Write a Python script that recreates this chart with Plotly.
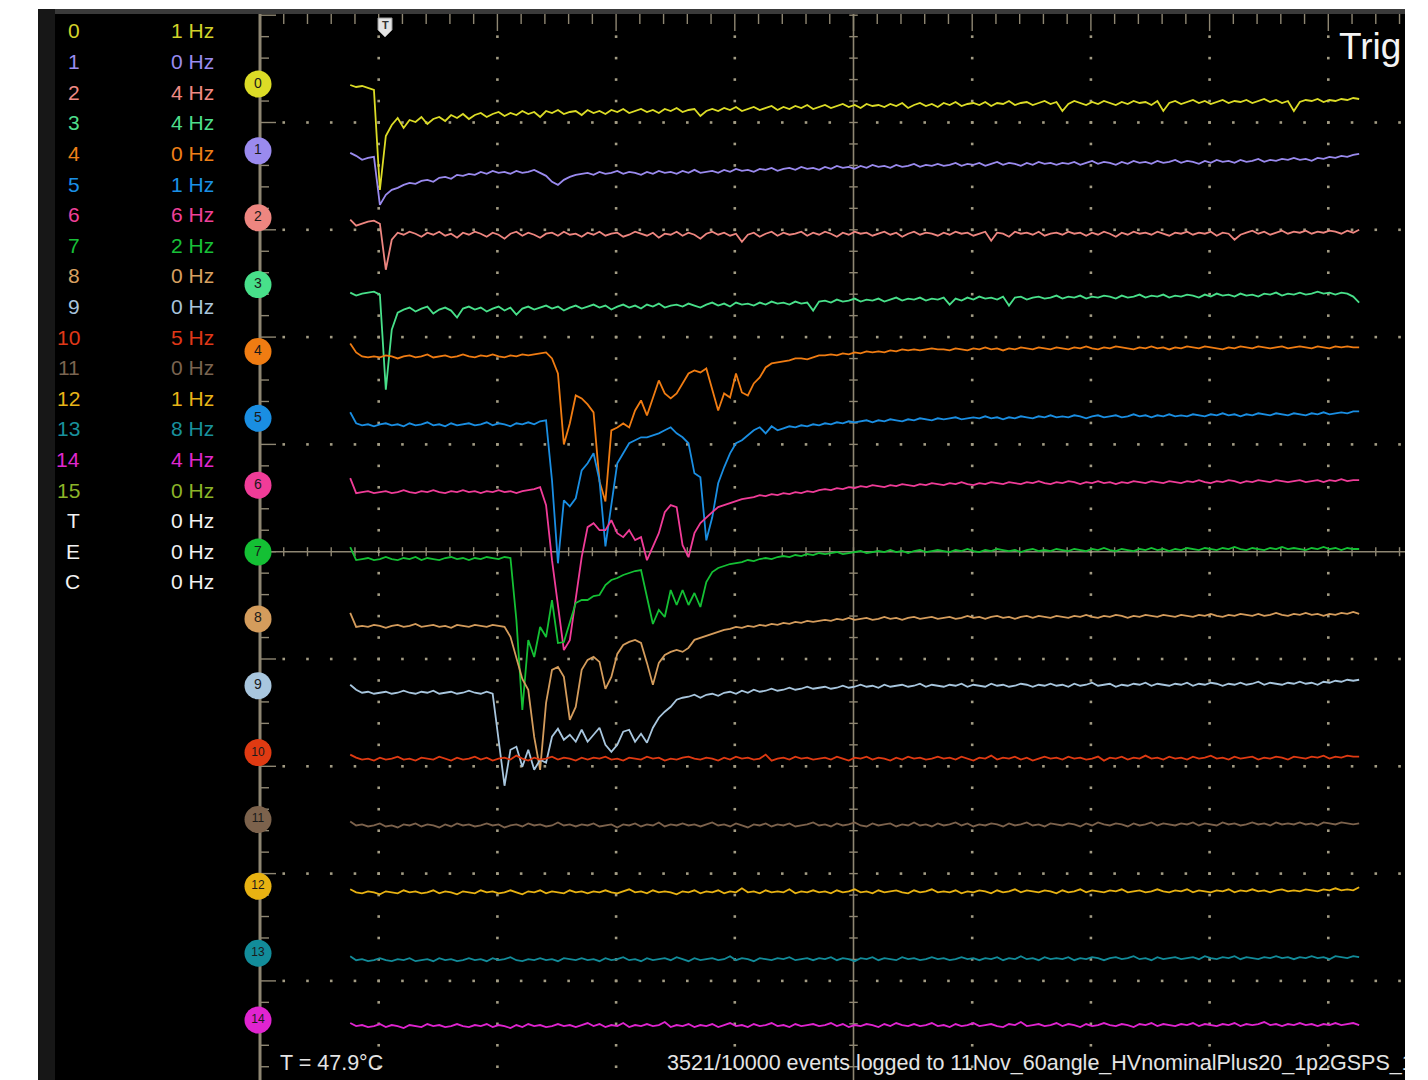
import plotly.graph_objects as go

# ---------------- data ----------------
T_START_NS = 76.0      # time of first sample
T_STEP_NS = 5.0        # sample spacing
NS_PER_DIV = 100.0
COUNTS_PER_DIV = 107.3

CHANNEL_COLORS = ["#dcdc26", "#9a8aee", "#ee8680", "#48e08a", "#f07c12",
                  "#1a8ee2", "#f03c98", "#14c034", "#d49c5c", "#a8c6de",
                  "#e03a12", "#7c624c", "#e8b212", "#128c9a", "#e024d0"]

ch0 = [-1,-3,-2,-4,-6,-106,-52,-41,-34,-44,-36,-38,-33,-40,-35,-33,-37,-31,-34,-30,
       -35,-31,-29,-33,-30,-28,-32,-29,-31,-27,-30,-28,-33,-27,-29,-26,-30,-28,-27,-31,
       -26,-29,-27,-30,-26,-28,-25,-29,-27,-25,-28,-26,-29,-25,-27,-24,-28,-26,-25,-32,
       -27,-25,-27,-24,-26,-23,-27,-25,-23,-26,-24,-22,-26,-23,-25,-22,-24,-21,-25,-23,
       -21,-24,-22,-20,-23,-21,-24,-20,-22,-21,-23,-20,-22,-19,-24,-21,-19,-22,-20,-23,
       -19,-21,-18,-22,-20,-19,-21,-18,-22,-19,-20,-17,-21,-19,-18,-21,-19,-17,-20,-18,
       -27,-20,-17,-19,-21,-18,-20,-17,-19,-21,-18,-20,-17,-19,-18,-21,-17,-27,-19,-17,
       -20,-18,-16,-19,-17,-20,-18,-16,-19,-17,-18,-16,-19,-17,-15,-18,-16,-19,-17,-27,
       -18,-16,-17,-15,-18,-16,-17,-15,-16,-14,-15]
ch1 = [-2,-5,-9,-7,-6,-54,-44,-39,-37,-34,-32,-33,-30,-29,-31,-27,-26,-28,-24,-25,
       -23,-24,-21,-23,-20,-22,-21,-23,-20,-22,-21,-19,-22,-25,-31,-34,-29,-26,-24,-23,
       -22,-24,-21,-23,-22,-20,-23,-21,-22,-24,-21,-23,-20,-22,-21,-23,-20,-22,-19,-22,
       -21,-20,-22,-19,-21,-18,-20,-19,-21,-18,-19,-17,-20,-18,-17,-19,-16,-18,-17,-19,
       -16,-18,-15,-17,-16,-18,-15,-17,-14,-16,-15,-17,-14,-16,-15,-13,-16,-14,-15,-13,
       -15,-14,-12,-15,-13,-14,-12,-15,-13,-11,-14,-12,-13,-15,-12,-14,-11,-13,-12,-14,
       -12,-13,-11,-14,-12,-10,-13,-11,-12,-14,-11,-13,-10,-12,-11,-13,-10,-12,-11,-9,
       -12,-10,-11,-13,-10,-12,-9,-11,-10,-12,-9,-11,-10,-8,-11,-9,-10,-8,-9,-7,
       -9,-8,-10,-7,-8,-6,-7,-5,-6,-4,-3]
ch2 = [-2,-8,-6,-4,-3,-6,-52,-22,-15,-17,-14,-16,-19,-15,-17,-14,-18,-16,-20,-15,
       -17,-14,-16,-19,-15,-17,-21,-16,-14,-18,-15,-17,-20,-16,-15,-18,-14,-17,-16,-19,
       -15,-17,-14,-18,-16,-15,-19,-17,-14,-16,-18,-15,-20,-16,-17,-14,-18,-15,-17,-21,
       -16,-14,-17,-15,-18,-16,-24,-17,-15,-19,-16,-14,-18,-15,-17,-16,-14,-18,-15,-17,
       -14,-16,-19,-15,-17,-14,-16,-15,-18,-16,-14,-17,-15,-19,-16,-14,-17,-15,-16,-18,
       -15,-17,-14,-16,-15,-18,-16,-14,-23,-15,-16,-19,-14,-16,-15,-17,-14,-18,-16,-15,
       -17,-14,-16,-15,-18,-15,-17,-14,-16,-19,-15,-17,-14,-16,-15,-17,-14,-16,-18,-15,
       -16,-14,-17,-15,-16,-14,-18,-15,-16,-22,-17,-15,-13,-16,-14,-17,-15,-13,-16,-14,
       -15,-13,-16,-14,-15,-13,-14,-16,-13,-15,-12]
ch3 = [-8,-11,-9,-8,-7,-10,-105,-45,-28,-25,-23,-27,-24,-22,-29,-25,-23,-26,-33,-24,
       -22,-25,-23,-27,-24,-22,-26,-23,-30,-24,-22,-25,-23,-21,-24,-22,-26,-23,-21,-24,
       -22,-20,-23,-21,-25,-22,-20,-23,-21,-24,-20,-22,-19,-23,-21,-20,-22,-19,-21,-23,
       -20,-18,-21,-19,-22,-18,-20,-19,-21,-18,-20,-17,-19,-18,-20,-17,-19,-18,-26,-17,
       -16,-18,-15,-17,-16,-14,-17,-15,-16,-14,-17,-15,-13,-16,-14,-15,-13,-16,-14,-15,
       -13,-20,-14,-16,-13,-15,-12,-14,-13,-15,-12,-21,-13,-12,-15,-13,-12,-14,-13,-11,
       -14,-12,-13,-11,-14,-12,-13,-11,-12,-14,-11,-13,-12,-10,-13,-11,-12,-10,-13,-11,
       -12,-10,-11,-13,-10,-12,-9,-11,-10,-12,-9,-11,-10,-12,-9,-10,-8,-11,-9,-10,
       -8,-10,-9,-7,-9,-8,-10,-8,-9,-12,-18]
ch4 = [8,-1,-5,-6,-5,-6,-4,-5,-7,-5,-4,-6,-5,-3,-6,-5,-4,-6,-5,-3,
       -5,-6,-4,-5,-3,-5,-6,-4,-5,-3,-4,-3,-2,-1,-7,-22,-93,-72,-44,-47,
       -53,-61,-130,-150,-79,-76,-72,-76,-59,-49,-64,-46,-29,-42,-47,-42,-32,-22,-19,-21,
       -17,-37,-59,-42,-46,-22,-41,-44,-32,-26,-16,-12,-11,-10,-9,-7,-7,-8,-6,-4,
       -4,-3,-4,-2,-3,-1,-2,0,-1,0,-1,1,0,2,1,2,1,2,3,2,
       2,1,3,2,1,3,2,4,2,3,1,3,2,4,3,2,4,3,2,4,
       3,2,4,3,5,3,2,4,3,5,4,3,2,4,3,5,3,4,2,4,
       3,5,4,3,5,4,3,2,4,3,5,4,3,5,4,3,4,5,3,4,
       5,4,3,5,4,3,5,4,5,4,4]
ch5 = [6,-5,-7,-6,-8,-6,-5,-7,-6,-8,-5,-7,-6,-4,-7,-6,-8,-5,-7,-6,
       -5,-7,-6,-4,-7,-5,-6,-8,-5,-6,-4,-6,-3,-2,-62,-145,-82,-88,-80,-52,
       -45,-35,-62,-128,-85,-45,-35,-25,-22,-19,-19,-17,-15,-12,-9,-15,-19,-25,-55,-59,
       -122,-99,-65,-49,-35,-25,-22,-17,-12,-9,-15,-8,-12,-10,-8,-9,-7,-8,-6,-7,
       -5,-6,-4,-5,-3,-4,-3,-2,-4,-2,-3,-1,-2,-3,-1,-2,0,-1,-2,0,
       -1,0,1,-1,0,1,0,2,0,1,-1,1,0,2,1,0,2,1,3,1,
       2,1,3,2,0,2,3,1,2,3,1,2,4,2,3,1,3,2,4,2,
       3,2,4,3,2,4,3,5,3,4,2,4,3,5,4,3,5,4,3,5,
       4,3,5,4,6,4,5,6,5,7,7]
ch6 = [7,-8,-7,-6,-8,-7,-6,-8,-7,-5,-7,-8,-6,-7,-5,-7,-8,-6,-7,-5,
       -7,-6,-8,-6,-7,-5,-7,-6,-8,-6,-5,-4,-2,-20,-75,-118,-165,-155,-112,-72,
       -42,-38,-45,-45,-35,-48,-52,-45,-55,-52,-75,-62,-48,-27,-20,-22,-60,-72,-48,-38,
       -32,-27,-22,-20,-18,-16,-14,-13,-12,-10,-11,-9,-10,-8,-9,-7,-8,-6,-7,-5,
       -4,-5,-3,-4,-2,-3,-1,-2,0,-1,-2,0,-1,1,0,-1,1,0,2,1,
       0,2,1,3,1,0,2,1,3,2,1,3,2,1,3,2,4,2,1,3,
       2,4,3,1,3,2,4,2,3,1,3,2,4,3,2,4,3,2,4,3,
       2,4,3,5,3,2,4,3,5,4,2,4,3,5,4,3,5,4,3,4,
       5,3,4,5,3,5,4,6,4,5,5]
ch7 = [5,-8,-7,-6,-8,-7,-5,-7,-8,-6,-7,-5,-8,-6,-7,-8,-6,-5,-7,-6,
       -8,-6,-7,-5,-6,-7,-5,-6,-68,-158,-88,-105,-75,-85,-48,-91,-90,-71,-51,-48,
       -48,-44,-43,-33,-28,-26,-23,-21,-19,-18,-45,-72,-58,-65,-38,-53,-38,-53,-41,-55,
       -30,-20,-16,-14,-12,-11,-10,-8,-9,-7,-6,-7,-5,-4,-5,-3,-4,-2,-3,-1,
       -2,-1,0,-2,-1,0,1,-1,0,1,0,2,0,1,-1,1,2,0,1,2,
       1,0,2,1,3,1,0,2,1,3,2,1,2,0,2,3,1,2,1,3,
       2,1,3,2,1,3,2,4,2,1,3,2,1,3,2,4,2,3,1,3,
       2,4,3,2,4,3,2,4,3,5,3,2,4,3,2,4,3,5,3,4,
       3,2,4,3,5,3,4,2,4,3,3]
ch8 = [6,-8,-7,-8,-6,-7,-9,-7,-6,-8,-7,-5,-8,-7,-6,-8,-7,-9,-6,-7,
       -8,-6,-7,-8,-6,-7,-8,-18,-38,-60,-71,-118,-151,-84,-51,-48,-58,-101,-88,-51,
       -41,-38,-43,-70,-58,-35,-26,-23,-21,-24,-44,-66,-44,-36,-33,-31,-33,-29,-21,-19,
       -17,-15,-13,-11,-10,-8,-9,-7,-8,-6,-7,-5,-6,-4,-5,-3,-4,-2,-3,-2,
       -1,-2,0,-1,1,-1,0,1,-1,0,2,0,1,-1,1,2,0,1,2,0,
       1,2,0,1,3,1,2,0,2,3,1,2,0,2,3,1,3,2,1,3,
       2,1,3,2,4,2,1,3,2,4,3,1,3,2,4,3,2,4,3,2,
       4,3,2,4,3,5,3,2,4,3,5,4,3,5,3,4,6,4,3,5,
       4,6,4,5,3,5,4,6,5,7,5]
ch9 = [1,-4,-7,-6,-8,-7,-6,-8,-7,-5,-7,-8,-6,-7,-5,-8,-7,-6,-8,-7,
       -5,-7,-8,-6,-8,-55,-100,-64,-61,-81,-64,-84,-74,-77,-51,-43,-54,-49,-56,-44,
       -56,-49,-42,-59,-66,-59,-46,-44,-56,-48,-57,-42,-32,-26,-21,-14,-12,-11,-9,-12,
       -9,-8,-10,-7,-6,-8,-5,-7,-4,-6,-5,-3,-5,-4,-2,-4,-3,-1,-3,-2,
       -1,-3,-2,0,-2,-1,1,-1,0,-2,1,-1,0,1,-1,0,2,-1,1,0,
       -1,1,0,2,-1,1,0,-1,2,0,1,-1,0,2,1,-1,1,0,2,0,
       1,-1,2,0,1,3,0,1,2,-1,1,0,2,1,3,0,2,1,0,2,
       1,3,0,2,1,3,2,0,2,1,3,1,2,4,1,3,2,1,3,2,
       4,2,3,1,4,3,5,4,6,5,6]
ch10 = [-2,-5,-7,-6,-8,-5,-7,-6,-4,-7,-6,-8,-5,-6,-7,-4,-6,-8,-5,-7,
        -6,-4,-7,-5,-8,-6,-5,-7,-3,-6,-8,-5,-7,-6,-4,-7,-5,-6,-8,-5,
        -7,-5,-6,-4,-7,-6,-8,-5,-6,-7,-4,-6,-5,-8,-6,-7,-5,-4,-6,-7,
        -5,-6,-8,-5,-7,-4,-6,-5,-7,-6,-2,-8,-6,-5,-7,-4,-6,-5,-7,-6,
        -5,-7,-4,-6,-8,-5,-6,-4,-7,-5,-6,-8,-5,-7,-4,-6,-5,-7,-6,-4,
        -6,-5,-7,-4,-6,-8,-5,-6,-3,-7,-5,-6,-4,-7,-5,-8,-6,-4,-6,-5,
        -7,-4,-6,-5,-7,-6,-4,-8,-5,-6,-4,-7,-5,-6,-3,-6,-5,-7,-4,-6,
        -5,-7,-4,-6,-5,-3,-6,-5,-7,-4,-6,-5,-4,-7,-5,-6,-4,-5,-7,-4,
        -5,-6,-4,-5,-3,-6,-4,-5,-3,-4,-4]
ch11 = [-2,-6,-5,-7,-6,-4,-7,-6,-8,-5,-6,-4,-7,-5,-6,-8,-5,-7,-4,-6,
        -5,-7,-6,-4,-6,-5,-8,-6,-5,-7,-4,-6,-5,-7,-6,-3,-6,-5,-7,-5,
        -6,-4,-7,-6,-5,-8,-5,-6,-4,-7,-5,-6,-3,-7,-5,-6,-4,-6,-5,-7,
        -5,-3,-6,-5,-7,-4,-6,-8,-5,-6,-4,-7,-5,-6,-4,-7,-6,-5,-3,-6,
        -5,-7,-4,-6,-5,-3,-6,-7,-4,-6,-5,-4,-7,-5,-6,-3,-6,-5,-7,-4,
        -6,-5,-3,-6,-4,-7,-5,-6,-4,-5,-7,-4,-6,-5,-3,-6,-5,-7,-4,-5,
        -6,-4,-5,-7,-4,-6,-3,-5,-6,-4,-5,-7,-4,-6,-5,-3,-6,-4,-5,-6,
        -4,-5,-3,-6,-4,-5,-6,-3,-5,-4,-6,-5,-3,-5,-4,-6,-3,-5,-4,-5,
        -3,-5,-4,-6,-3,-4,-5,-3,-4,-5,-4]
ch12 = [-3,-6,-7,-5,-6,-8,-5,-6,-7,-4,-6,-5,-7,-6,-4,-7,-5,-6,-8,-5,
        -6,-7,-4,-6,-5,-7,-6,-4,-6,-8,-5,-6,-4,-7,-5,-6,-7,-4,-6,-5,
        -7,-5,-6,-4,-6,-7,-5,-3,-6,-5,-7,-4,-6,-5,-6,-8,-5,-6,-4,-7,
        -5,-6,-4,-7,-5,-6,-2,-6,-5,-7,-4,-6,-5,-6,-3,-7,-5,-6,-4,-6,
        -5,-7,-4,-6,-5,-3,-6,-5,-7,-4,-6,-5,-4,-6,-7,-4,-6,-5,-3,-6,
        -5,-6,-4,-7,-5,-6,-4,-5,-7,-4,-6,-5,-3,-6,-4,-5,-6,-4,-5,-7,
        -4,-6,-5,-3,-6,-4,-5,-6,-4,-5,-3,-6,-5,-4,-6,-5,-3,-5,-6,-4,
        -5,-3,-6,-4,-5,-6,-4,-5,-3,-6,-4,-5,-3,-5,-4,-6,-4,-3,-5,-4,
        -5,-3,-4,-5,-3,-4,-2,-4,-3,-4,-1]
ch13 = [-3,-7,-6,-8,-7,-5,-7,-8,-6,-7,-5,-8,-7,-6,-8,-5,-7,-6,-8,-7,
        -5,-7,-6,-8,-5,-7,-6,-4,-7,-8,-6,-7,-5,-7,-6,-8,-5,-6,-7,-5,
        -7,-6,-8,-5,-7,-6,-4,-7,-6,-8,-5,-7,-6,-5,-7,-4,-6,-8,-5,-7,
        -6,-5,-7,-6,-3,-7,-5,-6,-8,-5,-6,-7,-5,-6,-4,-7,-6,-5,-7,-5,
        -6,-4,-7,-5,-6,-8,-5,-6,-4,-7,-5,-6,-7,-4,-6,-5,-7,-6,-4,-6,
        -5,-7,-6,-4,-6,-5,-7,-5,-6,-4,-7,-5,-6,-3,-6,-5,-7,-4,-6,-5,
        -6,-4,-7,-5,-6,-4,-5,-7,-5,-4,-6,-5,-3,-6,-5,-7,-4,-6,-5,-4,
        -6,-5,-4,-6,-3,-5,-6,-4,-5,-3,-6,-4,-5,-6,-4,-5,-3,-5,-4,-6,
        -4,-5,-3,-5,-4,-6,-3,-4,-5,-3,-4]
ch14 = [-3,-6,-5,-7,-6,-4,-7,-5,-6,-8,-5,-6,-7,-4,-6,-5,-7,-6,-4,-6,
        -7,-5,-6,-4,-7,-5,-6,-8,-5,-7,-4,-6,-5,-7,-6,-4,-6,-5,-7,-5,
        -3,-6,-4,-7,-5,-6,-3,-7,-5,-6,-4,-6,-5,-2,-7,-5,-6,-4,-7,-5,
        -6,-4,-7,-5,-3,-6,-5,-7,-4,-6,-5,-3,-6,-5,-7,-4,-6,-5,-4,-6,
        -5,-3,-6,-4,-7,-5,-6,-4,-5,-7,-4,-6,-3,-5,-6,-4,-6,-5,-3,-6,
        -5,-7,-4,-6,-5,-3,-6,-5,-4,-6,-7,-4,-5,-2,-6,-5,-4,-6,-5,-3,
        -6,-4,-5,-7,-4,-6,-5,-3,-5,-6,-4,-5,-7,-4,-5,-3,-6,-4,-5,-6,
        -4,-5,-3,-6,-4,-5,-6,-4,-5,-3,-6,-4,-5,-4,-2,-5,-4,-6,-4,-5,
        -3,-5,-4,-6,-4,-5,-3,-5,-4,-3,-5]
WAVEFORMS = [ch0, ch1, ch2, ch3, ch4, ch5, ch6, ch7, ch8, ch9, ch10, ch11, ch12, ch13, ch14]

LEGEND_NAMES = ["0", "1", "2", "3", "4", "5", "6", "7", "8", "9", "10", "11", "12",
                "13", "14", "15", "T", "E", "C"]
LEGEND_RATES_HZ = [1, 0, 4, 4, 0, 1, 6, 2, 0, 0, 5, 0, 1, 8, 4, 0, 0, 0, 0]
LEGEND_COLORS = ["#d2d22a", "#9a8cf0", "#f08a84", "#4ede8c", "#f08018", "#1a90e6",
                 "#f0409a", "#18c038", "#d8a060", "#a8c4dc", "#e03818", "#7a6450",
                 "#e8b418", "#18909c", "#e028d0", "#8cb428", "#f2f2f2", "#f2f2f2", "#f2f2f2"]
TEMPERATURE_C = 47.9
EVENTS_LOGGED = 3521
EVENTS_TOTAL = 10000
RUN_NAME = "11Nov_60angle_HVnominalPlus20_1p2GSPS_1"

# ---------------- layout geometry ----------------
FIG_W, FIG_H = 1405, 1080
X0_PX = 260.0           # t = 0 ns (graticule left edge)
PX_PER_NS = 1.187
Y0_PX = 551.7           # centre horizontal graticule line
CH0_PX = 84.0
CH_PITCH_PX = 66.86
GRID_C = "#8e8672"
DOT_C = "#a39c84"

def tx(px): return (px - X0_PX) / PX_PER_NS
def vy(py): return Y0_PX - py
def fx(px): return px / FIG_W
def fy(py): return 1 - py / FIG_H

T_RIGHT = tx(FIG_W)
Y_BOT, Y_TOP = vy(FIG_H), vy(9)
Y_AXTOP = vy(14)

fig = go.Figure()

# graticule ticks
tick_x, tick_y = [], []
minor_y = COUNTS_PER_DIV / 5
for j in range(-30, 31):
    y = j * minor_y
    if Y_BOT <= y <= Y_AXTOP:
        major = (j % 5 == 0)
        tick_x += [0, tx(276 if major else 269), None]
        tick_y += [y, y, None]
        tick_x += [500 - 3.6, 500 + 3.6, None]
        tick_y += [y, y, None]
for k in range(0, 49):
    t = 20 * k
    if t > T_RIGHT:
        break
    if k > 0:
        tick_x += [t, t, None]
        tick_y += [-4.5, 4.5, None]
    tick_x += [t, t, None]
    tick_y += [Y_AXTOP, vy(31) if k % 5 == 0 else vy(24), None]
fig.add_trace(go.Scatter(x=tick_x, y=tick_y, mode="lines",
                         line=dict(color=GRID_C, width=1.4), hoverinfo="skip"))

# dotted graticule
dot_x, dot_y = [], []
for k in [1, 2, 3, 4, 6, 7, 8, 9]:
    t = NS_PER_DIV * k
    for j in range(-30, 30):
        y = j * minor_y
        if Y_BOT <= y <= vy(30):
            dot_x.append(t); dot_y.append(y)
for m in [-4, -3, -2, -1, 1, 2, 3, 4]:
    y = m * COUNTS_PER_DIV
    for k in range(1, 49):
        t = 20 * k
        if t <= T_RIGHT and t % 500 != 0:
            dot_x.append(t); dot_y.append(y)
fig.add_trace(go.Scatter(x=dot_x, y=dot_y, mode="markers",
                         marker=dict(symbol="square", size=2.6, color=DOT_C, line=dict(width=0)),
                         hoverinfo="skip"))

# waveforms
for k, vals in enumerate(WAVEFORMS):
    off = vy(CH0_PX + CH_PITCH_PX * k)
    t = [T_START_NS + T_STEP_NS * i for i in range(len(vals))]
    fig.add_trace(go.Scatter(x=t, y=[off + v for v in vals], mode="lines",
                             line=dict(color=CHANNEL_COLORS[k], width=1.8),
                             hoverinfo="skip"))

# channel markers on the left axis
mk_y = [vy(CH0_PX + CH_PITCH_PX * k) for k in range(15)]
fig.add_trace(go.Scatter(x=[tx(258)] * 15, y=mk_y, mode="markers+text",
                         marker=dict(size=27, color=CHANNEL_COLORS, line=dict(width=0)),
                         text=[str(k) for k in range(15)], textposition="middle center",
                         textfont=dict(family="Liberation Sans", size=[14] * 10 + [12] * 5,
                                       color="#1a1a1a"),
                         cliponaxis=False, hoverinfo="skip"))

shapes = [
    dict(type="rect", xref="paper", yref="paper", x0=fx(38), x1=1, y0=0, y1=fy(9),
         fillcolor="#000000", line=dict(width=0), layer="below"),
    dict(type="rect", xref="paper", yref="paper", x0=fx(38), x1=fx(55), y0=0, y1=fy(9),
         fillcolor="#171717", line=dict(width=0), layer="below"),
    dict(type="rect", xref="paper", yref="paper", x0=fx(55), x1=1, y0=fy(14), y1=fy(9),
         fillcolor="#3a3a3a", line=dict(width=0), layer="below"),
    dict(type="line", xref="x", yref="y", x0=0, x1=0, y0=Y_BOT, y1=Y_AXTOP,
         line=dict(color=GRID_C, width=3), layer="below"),
    dict(type="line", xref="x", yref="y", x0=0, x1=T_RIGHT, y0=0, y1=0,
         line=dict(color=GRID_C, width=1.6), layer="below"),
    dict(type="line", xref="x", yref="y", x0=500, x1=500, y0=Y_BOT, y1=Y_AXTOP,
         line=dict(color=GRID_C, width=1.6), layer="below"),
    dict(type="path", xref="paper", yref="paper",
         path=(f"M {fx(378)},{fy(18)} L {fx(392)},{fy(18)} L {fx(392)},{fy(30)} "
               f"L {fx(385)},{fy(37)} L {fx(378)},{fy(30)} Z"),
         fillcolor="#e4e4e4", line=dict(color="#9a9a9a", width=1), layer="above"),
]

annotations = []
for i, (name, hz, col) in enumerate(zip(LEGEND_NAMES, LEGEND_RATES_HZ, LEGEND_COLORS)):
    ypx = 31 + 30.6 * i
    annotations.append(dict(x=fx(82), y=fy(ypx), xref="paper", yref="paper", text=name,
                            showarrow=False, xanchor="right", yanchor="middle",
                            font=dict(family="Liberation Sans", size=21, color=col)))
    annotations.append(dict(x=fx(216), y=fy(ypx), xref="paper", yref="paper", text=f"{hz} Hz",
                            showarrow=False, xanchor="right", yanchor="middle",
                            font=dict(family="Liberation Sans", size=21, color=col)))
annotations.append(dict(x=fx(385), y=fy(25), xref="paper", yref="paper", text="<b>T</b>",
                        showarrow=False, xanchor="center", yanchor="middle",
                        font=dict(family="Liberation Sans", size=11, color="#333333")))
annotations.append(dict(x=fx(1337), y=fy(47), xref="paper", yref="paper", text="Trig",
                        showarrow=False, xanchor="left", yanchor="middle",
                        font=dict(family="Liberation Sans", size=37, color="#f4f4f4")))
annotations.append(dict(x=fx(278), y=fy(1063), xref="paper", yref="paper",
                        text=f"T = {TEMPERATURE_C}°C",
                        showarrow=False, xanchor="left", yanchor="middle",
                        font=dict(family="Liberation Sans", size=21.5, color="#e4e4e4")))
annotations.append(dict(x=fx(665), y=fy(1063), xref="paper", yref="paper",
                        text=f"{EVENTS_LOGGED}/{EVENTS_TOTAL} events logged to {RUN_NAME}",
                        showarrow=False, xanchor="left", yanchor="middle",
                        font=dict(family="Liberation Sans", size=21.5, color="#e4e4e4")))

fig.update_layout(
    width=FIG_W, height=FIG_H,
    margin=dict(l=0, r=0, t=0, b=0),
    paper_bgcolor="#ffffff", plot_bgcolor="rgba(0,0,0,0)",
    showlegend=False,
    xaxis=dict(domain=[fx(250), 1], range=[tx(250), T_RIGHT], visible=False, fixedrange=True),
    yaxis=dict(domain=[0, fy(9)], range=[Y_BOT, Y_TOP], visible=False, fixedrange=True),
    shapes=shapes, annotations=annotations,
)

fig.write_html("out.html")
